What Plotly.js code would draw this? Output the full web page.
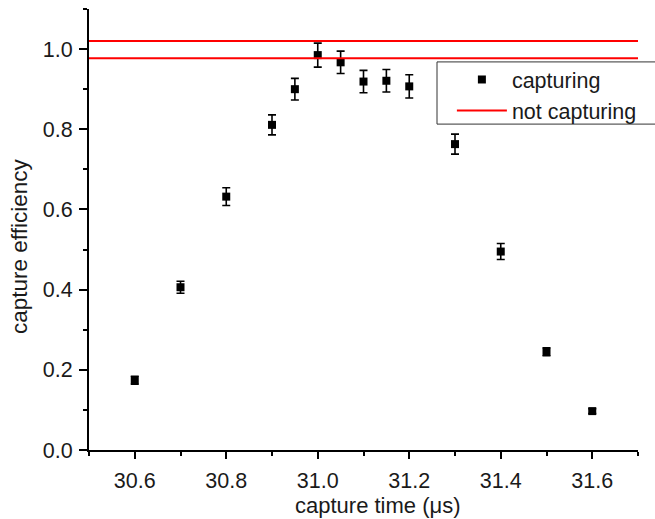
<!DOCTYPE html>
<html>
<head>
<meta charset="utf-8">
<script src="https://cdn.plot.ly/plotly-3.0.1.min.js"></script>
<style>html,body{margin:0;padding:0;background:#fff;}#chart{width:655px;height:519px;}</style>
</head>
<body>
<div id="chart"></div>
<script>
// capture time (µs)
var captureTime = [30.6, 30.7, 30.8, 30.9, 30.95, 31.0, 31.05, 31.1, 31.15, 31.2, 31.3, 31.4, 31.5, 31.6];
// capture efficiency
var efficiency = [0.174, 0.406, 0.632, 0.811, 0.900, 0.985, 0.967, 0.919, 0.921, 0.907, 0.763, 0.495, 0.245, 0.097];
var efficiencyErr = [0.010, 0.015, 0.022, 0.025, 0.027, 0.030, 0.028, 0.028, 0.028, 0.029, 0.025, 0.020, 0.010, 0.006];
// not capturing band (two reference lines)
var notCapX = [30.5, 31.7, null, 30.5, 31.7];
var notCapY = [1.02, 1.02, null, 0.977, 0.977];

var xTickVals = [30.6, 30.8, 31.0, 31.2, 31.4, 31.6];
var xTickText = ['30.6', '30.8', '31.0', '31.2', '31.4', '31.6'];
var yTickVals = [0.0, 0.2, 0.4, 0.6, 0.8, 1.0];
var yTickText = ['0.0', '0.2', '0.4', '0.6', '0.8', '1.0'];

var font = 'Liberation Sans, Arial, sans-serif';
var txt = '#1a1a1a';

var traces = [
  {
    x: captureTime, y: efficiency, name: 'capturing', type: 'scatter', mode: 'markers',
    marker: {symbol: 'square', size: 8, color: '#000'},
    error_y: {type: 'data', array: efficiencyErr, visible: true, color: '#000', thickness: 1.6, width: 4}
  },
  {
    x: notCapX, y: notCapY, name: 'not capturing', type: 'scatter', mode: 'lines',
    line: {color: '#ff0000', width: 2}, connectgaps: false
  }
];

var layout = {
  width: 655, height: 519,
  margin: {l: 89, r: 17, t: 9, b: 69},
  paper_bgcolor: '#fff', plot_bgcolor: '#fff',
  font: {family: font, size: 21, color: txt},
  showlegend: true,
  legend: {
    x: 0.661, y: 0.8866, xanchor: 'left', yanchor: 'top',
    bgcolor: 'rgba(0,0,0,0)', borderwidth: 0,
    font: {family: font, size: 21.5, color: txt},
    itemwidth: 50, tracegroupgap: 0
  },
  shapes: [{
    type: 'rect', xref: 'paper', yref: 'paper',
    x0: 0.6339, x1: 1.06, y0: 0.739, y1: 0.880,
    line: {color: '#333', width: 1}, fillcolor: '#fff', layer: 'above'
  }],
  annotations: [
    {text: 'capture time (\u03bcs)', xref: 'paper', yref: 'paper', x: 0.526, y: -0.126,
     xanchor: 'center', yanchor: 'middle', showarrow: false, font: {family: font, size: 22, color: txt}},
    {text: 'capture efficiency', xref: 'paper', yref: 'paper', x: -0.1257, y: 0.4626, textangle: -90,
     xanchor: 'center', yanchor: 'middle', showarrow: false, font: {family: font, size: 22.5, color: txt}}
  ],
  xaxis: {
    range: [30.5, 31.7], showgrid: false, zeroline: false,
    showline: true, linecolor: '#000', linewidth: 2, mirror: false,
    ticks: 'outside', ticklen: 7, tickwidth: 2, tickcolor: '#000',
    tickvals: xTickVals, ticktext: xTickText,
    minor: {dtick: 0.1, ticks: 'outside', ticklen: 4, tickwidth: 2, tickcolor: '#000', showgrid: false},
    tickfont: {family: font, size: 21.5, color: txt}, ticklabelstandoff: 3
  },
  yaxis: {
    range: [0, 1.1], showgrid: false, zeroline: false,
    showline: true, linecolor: '#000', linewidth: 2, mirror: false,
    ticks: 'outside', ticklen: 8, tickwidth: 2, tickcolor: '#000',
    tickvals: yTickVals, ticktext: yTickText,
    minor: {dtick: 0.1, ticks: 'outside', ticklen: 4, tickwidth: 2, tickcolor: '#000', showgrid: false},
    tickfont: {family: font, size: 21.5, color: txt}, ticklabelstandoff: 2
  }
};

Plotly.newPlot('chart', traces, layout, {displayModeBar: false, staticPlot: true});
</script>
</body>
</html>
